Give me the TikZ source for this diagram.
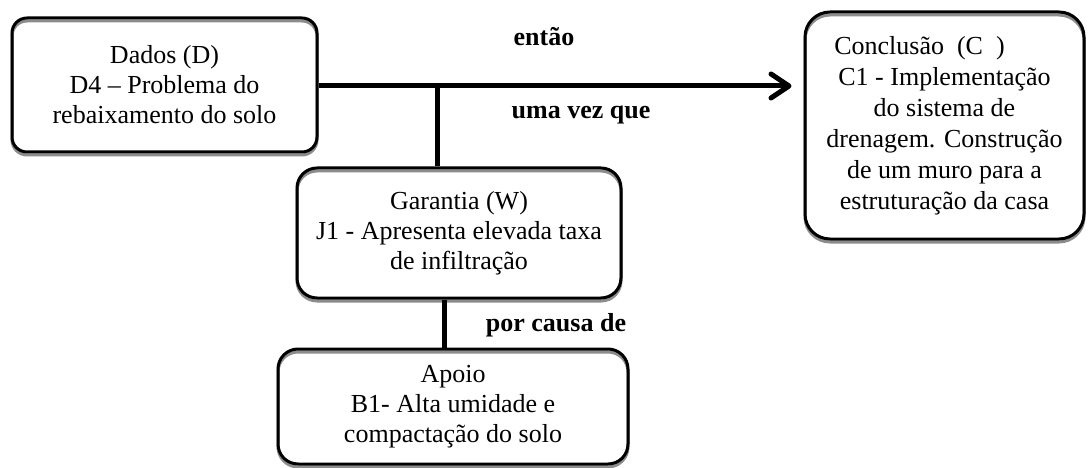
\documentclass[tikz,border=0pt]{standalone}
\usepackage{fontspec}
\setmainfont{Liberation Serif}
\usetikzlibrary{arrows.meta}
\begin{document}
\begin{tikzpicture}[x=1pt,y=-1pt,
  box/.style={draw=black, line width=3pt, inner sep=0pt, align=center,
    font=\fontsize{26}{30}\selectfont,
    preaction={draw=black!45, line width=3pt, transform canvas={yshift=-3pt}}},
  conn/.style={line width=5pt},
  lbl/.style={font=\fontsize{26}{30}\selectfont\bfseries, inner sep=0pt}]
\useasboundingbox (0,0) rectangle (1090,468);
\node[box, rounded corners=15pt, minimum width=305pt, minimum height=134pt] (D) at (164.5,85)
  {Dados (D)\\D4 – Problema do\\rebaixamento do solo};
\node[box, rounded corners=25pt, minimum width=279pt, minimum height=227pt,
  font=\fontsize{26}{31}\selectfont] (C) at (944.5,125.5)
  {Conclusão~~(C~~)\hspace*{50pt}\\C1 - Implementação\\do sistema de\\drenagem. Construção\\de um muro para a\\estruturação da casa};
\node[box, rounded corners=20pt, minimum width=324pt, minimum height=130pt] (G) at (459,233)
  {Garantia (W)\\J1 - Apresenta elevada taxa\\de infiltração};
\node[box, rounded corners=20pt, minimum width=350pt, minimum height=115pt] (A) at (453,406.5)
  {Apoio\\B1- Alta umidade e\\compactação do solo};
\node[lbl] (t1) at (544,37) {então};
\node[lbl] (t2) at (581,115) {uma vez que};
\node[lbl] (t3) at (556,325) {por causa de};
\coordinate (j) at (437,86);
\coordinate (k) at (444,300);
\draw[conn, -{Straight Barb[length=18pt, width=24pt, line cap=round, line join=round]}, shorten >=12pt]
  (D.east |- j) -- (C.west |- j);
\draw[conn] (j) -- (j |- G.north);
\draw[conn] (k |- G.south) -- (k |- A.north);
\end{tikzpicture}
\end{document}
